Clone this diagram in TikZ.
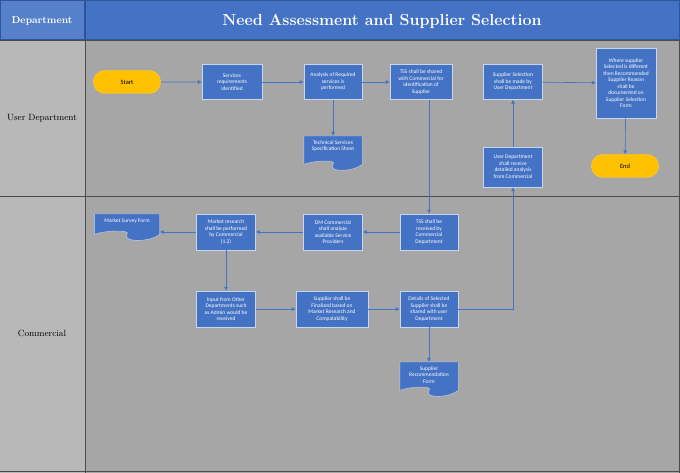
\documentclass[tikz,border=0pt]{standalone}
\usepackage{fontspec}
\setsansfont{Carlito}
\usetikzlibrary{arrows.meta, positioning, shapes.misc}
\definecolor{boxblue}{HTML}{4472C4}
\definecolor{lanegrey}{HTML}{A6A6A6}
\definecolor{headblue}{HTML}{2E5597}
\definecolor{termyellow}{HTML}{FFC000}
\newcommand{\docbox}[1]{%
  \fill[boxblue, draw=white!70!boxblue] (#1.north west) -- (#1.north east) -- (#1.south east)
    .. controls ([xshift=-10pt,yshift=-8pt]#1.south east) and ([xshift=-5pt,yshift=-8pt]#1.south) .. (#1.south)
    .. controls ([xshift=5pt,yshift=5pt]#1.south) and ([xshift=10pt,yshift=4pt]#1.south west) .. (#1.south west) -- cycle;}
\begin{document}
\begin{tikzpicture}
  [x=1pt, y=-1pt,
   proc/.style={rectangle, fill=boxblue, draw=white!70!boxblue, text=white,
                font=\sffamily\fontsize{5.5}{6.5}\selectfont, align=center, inner sep=1pt},
   docu/.style={rectangle, inner sep=0pt, anchor=north},
   doctext/.style={text=white, font=\sffamily\fontsize{5.5}{6.5}\selectfont,
                align=center, inner sep=1pt, anchor=north, yshift=-3pt},
   term/.style={rounded rectangle, fill=termyellow, draw=termyellow!80!white,
                font=\sffamily\fontsize{6.5}{7.5}\selectfont, minimum width=74pt, minimum height=23pt},
   flow/.style={draw=boxblue, -{Latex[length=4pt,width=4pt]}, semithick},
   lane/.style={font=\fontsize{9}{11}\selectfont}]

  % Lanes
  \useasboundingbox (0,0) rectangle (680,473);
  \fill[headblue] (0,0) rectangle (680,40);
  \fill[boxblue!90!white] (1,1) rectangle (84,39);
  \fill[boxblue] (86,1) rectangle (679,39);
  \fill[lanegrey!80!white] (0,40) rectangle (85,473);
  \fill[lanegrey] (85,40) rectangle (680,473);
  \draw[black!70] (0,40) -- (680,40) (85,40) -- (85,473) (0,196) -- (680,196)
    (0,471) -- (680,471) (679,40) -- (679,473);
  \node[text=white, font=\bfseries\fontsize{10}{12}\selectfont] (depthead) at (42,21) {Department};
  \node[text=white, font=\bfseries\fontsize{16}{19}\selectfont] (title) at (382,21) {Need Assessment and Supplier Selection};
  \node[lane] (userlane) at (42,118) {User Department};
  \node[lane] (commlane) at (42,333) {Commercial};

  % User Department
  \node (start) at (127,82) [term] {Start};
  \node (servreq) at (232,82) [proc, minimum width=60pt, minimum height=35pt] {Services\\requirements\\identified};
  \node (analysis) at (333,82) [proc, minimum width=58pt, minimum height=35pt] {Analysis of Required\\services is\\performed};
  \node (tssshared) at (421,82) [proc, minimum width=62pt, minimum height=35pt] {TSS shall be shared\\with Commercial for\\identification of\\Supplier};
  \node (suppsel) at (513,82) [proc, minimum width=59pt, minimum height=35pt] {Supplier Selection\\shall be made by\\User Department};
  \node (wheresupp) at (626,83) [proc, minimum width=60pt, minimum height=70pt] {Where supplier\\Selected is different\\then Recommended\\Supplier Reason\\shall be\\documented on\\Supplier Selection\\Form};
  \node (techspec) at (333,136) [docu, minimum width=58pt, minimum height=28pt] {};
  \node (userrecv) at (513,167) [proc, minimum width=59pt, minimum height=40pt] {User Department\\shall receive\\detailed analysis\\from Commercial};
  \node (end) at (625,166) [term] {End};

  % Commercial
  \node (survey) at (127,214) [docu, minimum width=65pt, minimum height=20pt] {};
  \node (mktres) at (226,232) [proc, minimum width=59pt, minimum height=36pt] {Market research\\shall be performed\\by Commercial\\(1.2)};
  \node (dmcomm) at (333,232) [proc, minimum width=59pt, minimum height=36pt] {DM Commercial\\shall analyze\\available Service\\Providers};
  \node (tssrecv) at (429,232) [proc, minimum width=58pt, minimum height=36pt] {TSS shall be\\received by\\Commercial\\Department};
  \node (input) at (226,309) [proc, minimum width=59pt, minimum height=36pt] {Input from Other\\Departments such\\as Admin would be\\received};
  \node (finalized) at (332,309) [proc, minimum width=72pt, minimum height=36pt] {Supplier shall be\\Finalized based on\\Market Research and\\Compatability};
  \node (details) at (429,309) [proc, minimum width=58pt, minimum height=36pt] {Details of Selected\\Supplier shall be\\shared with user\\Department};
  \node (supprec) at (429,362) [docu, minimum width=58pt, minimum height=28pt] {};
  \coordinate (turn1) at (513,309);

  % Documents
  \docbox{techspec} \docbox{survey} \docbox{supprec}
  \node[doctext] (techspectext) at (techspec.north) {Technical Services\\Specification Sheet};
  \node[doctext] (surveytext) at (survey.north) {Market Survey Form};
  \node[doctext] (supprectext) at (supprec.north) {Supplier\\Recommendation\\Form};

  % Flows
  \draw[flow] (start) -- (servreq);
  \draw[flow] (servreq) -- (analysis);
  \draw[flow] (analysis) -- (tssshared);
  \draw[flow] (analysis) -- (techspec);
  \draw[flow] (tssshared.south -| tssrecv) -- (tssrecv);
  \draw[flow] (tssrecv) -- (dmcomm);
  \draw[flow] (dmcomm) -- (mktres);
  \draw[flow] (mktres) -- (survey.east |- mktres);
  \draw[flow] (mktres) -- (input);
  \draw[flow] (input) -- (finalized);
  \draw[flow] (finalized) -- (details);
  \draw[flow] (details) -- (supprec);
  \draw[flow] (details) -- (turn1) -- (userrecv);
  \draw[flow] (userrecv) -- (suppsel);
  \draw[flow] (suppsel) -- (wheresupp);
  \draw[flow] (wheresupp) -- (end);
\end{tikzpicture}
\end{document}
